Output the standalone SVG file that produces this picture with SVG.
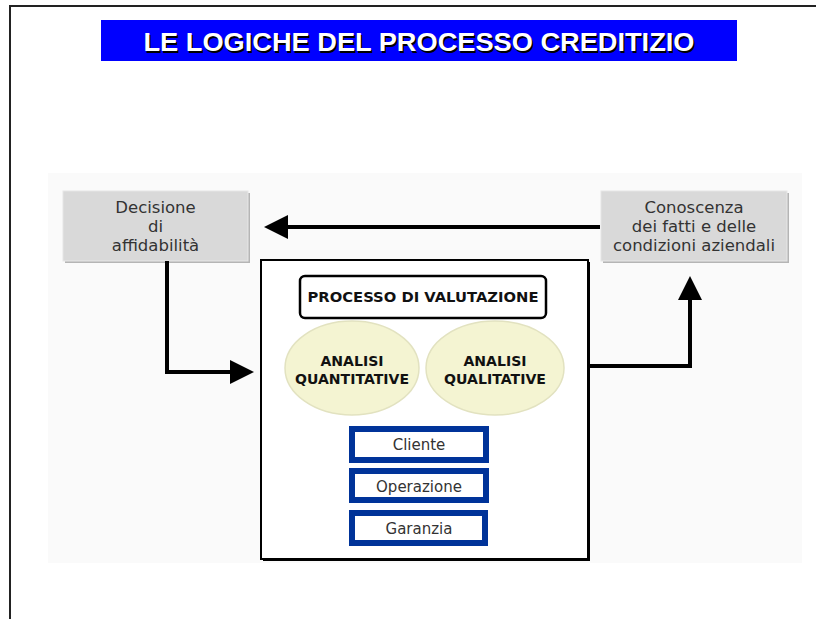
<svg xmlns="http://www.w3.org/2000/svg" width="816" height="619" viewBox="0 0 816 619">
<defs>
<style>
.page{fill:#fff}
.panel{fill:#fafafa}
.grey{fill:#d9d9d9;stroke:#e6e6e6;stroke-width:1}
.shadow{fill:#b5b5b5}
.t{font-family:"DejaVu Sans",Verdana,sans-serif;font-size:16.5px;fill:#333;text-anchor:middle}
.s{font-family:"DejaVu Sans",Verdana,sans-serif;font-size:15px;fill:#333;text-anchor:middle}
.b{font-family:"DejaVu Sans",Verdana,sans-serif;font-weight:bold;font-size:14px;fill:#111;text-anchor:middle}
.blue{fill:#fff;stroke:#003399;stroke-width:6}
.ell{fill:#f4f4d2;stroke:#e2e2c0;stroke-width:1.5}
.conn{fill:none;stroke:#000;stroke-width:4}
</style>
<marker id="ah" markerWidth="6" markerHeight="6" refX="5" refY="3" orient="auto" markerUnits="strokeWidth">
<path d="M0,0 L6,3 L0,6 z" fill="#000"/>
</marker>
</defs>
<rect class="page" x="0" y="0" width="816" height="619"/>
<path d="M10,619 V6 H816" fill="none" stroke="#222" stroke-width="2"/>
<g id="title">
<rect x="101" y="20" width="636" height="41" fill="#0000ff"/>
<text x="420.5" y="52.5" font-family="'Liberation Sans',Arial,sans-serif" font-weight="bold" font-size="26" fill="#000" text-anchor="middle" textLength="551" lengthAdjust="spacingAndGlyphs">LE LOGICHE DEL PROCESSO CREDITIZIO</text>
<text x="419" y="51" font-family="'Liberation Sans',Arial,sans-serif" font-weight="bold" font-size="26" fill="#fff" text-anchor="middle" textLength="551" lengthAdjust="spacingAndGlyphs">LE LOGICHE DEL PROCESSO CREDITIZIO</text>
</g>
<rect class="panel" x="48" y="173" width="754" height="390"/>
<g id="decisione">
<rect class="shadow" x="65" y="193" width="185" height="70"/>
<rect class="grey" x="63" y="191" width="185" height="70"/>
<text class="t" x="155.5" y="213">Decisione</text>
<text class="t" x="155.5" y="232">di</text>
<text class="t" x="155.5" y="251">affidabilità</text>
</g>
<g id="conoscenza">
<rect class="shadow" x="603" y="193" width="186" height="70"/>
<rect class="grey" x="601" y="191" width="186" height="70"/>
<text class="t" x="694" y="213">Conoscenza</text>
<text class="t" x="694" y="232">dei fatti e delle</text>
<text class="t" x="694" y="251">condizioni aziendali</text>
</g>
<g id="processo">
<rect x="263" y="262" width="327" height="299" fill="#000"/>
<rect x="261" y="260" width="327" height="299" fill="#fff" stroke="#000" stroke-width="2"/>
<g id="valutazione">
<rect x="300" y="276" width="246" height="42" rx="5" fill="#fff" stroke="#000" stroke-width="2.5"/>
<text class="b" x="423" y="302" textLength="231" lengthAdjust="spacingAndGlyphs">PROCESSO DI VALUTAZIONE</text>
</g>
<g id="quantitative">
<ellipse class="ell" cx="352" cy="368" rx="67" ry="47"/>
<text class="b" x="352" y="366" textLength="63" lengthAdjust="spacingAndGlyphs">ANALISI</text>
<text class="b" x="352" y="384" textLength="114" lengthAdjust="spacingAndGlyphs">QUANTITATIVE</text>
</g>
<g id="qualitative">
<ellipse class="ell" cx="495" cy="368" rx="69" ry="47"/>
<text class="b" x="495" y="366" textLength="63" lengthAdjust="spacingAndGlyphs">ANALISI</text>
<text class="b" x="495" y="384" textLength="102" lengthAdjust="spacingAndGlyphs">QUALITATIVE</text>
</g>
<g id="cliente">
<rect class="blue" x="352" y="429" width="134" height="31"/>
<text class="s" x="419" y="450">Cliente</text>
</g>
<g id="operazione">
<rect class="blue" x="352" y="471" width="134" height="29"/>
<text class="s" x="419" y="492">Operazione</text>
</g>
<g id="garanzia">
<rect class="blue" x="352" y="513" width="133" height="30"/>
<text class="s" x="419" y="534">Garanzia</text>
</g>
</g>
<g id="connectors">
<path class="conn" d="M600,227 H268" marker-end="url(#ah)"/>
<path class="conn" d="M167,261 V372 H250" marker-end="url(#ah)"/>
<path class="conn" d="M589,366 H690 V280" marker-end="url(#ah)"/>
</g>
</svg>
